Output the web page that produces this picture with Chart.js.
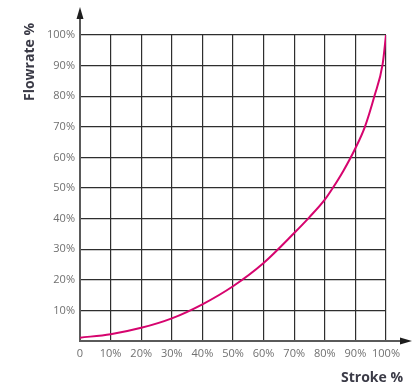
<!DOCTYPE html>
<html lang="en">
<head>
  <meta charset="UTF-8">
  <title>Flowrate vs Stroke</title>
  <script src="https://cdn.jsdelivr.net/npm/chart.js"></script>
  <style>
    html, body { margin: 0; padding: 0; background: #fff; }
    #wrap { width: 414px; height: 385px; position: relative; }
  </style>
</head>
<body>
  <div id="wrap"><canvas id="flowChart"></canvas></div>

  <script>
    // values
    var strokePct = [0, 10, 20, 30, 40, 50, 60, 70, 75, 80, 82.6, 86, 90, 93.1, 96.2, 98.9, 100];
    var flowPct   = [1.1, 2.2, 4.3, 7.4, 12.0, 17.9, 25.5, 35.3, 40.5, 46.2, 50, 55.5, 63, 70, 80, 90.5, 100];
    var tickValues = [0, 10, 20, 30, 40, 50, 60, 70, 80, 90, 100];

    var points = strokePct.map(function (s, i) { return { x: s, y: flowPct[i] }; });

    var gridColor = '#2e2e2e';
    var axisColor = '#5a5a5a';
    var titleColor = '#3b3b47';

    // axis arrows + titles
    var decorations = {
      id: 'decorations',
      afterDraw: function (chart) {
        var c = chart.ctx;
        var a = chart.chartArea;
        c.save();
        c.strokeStyle = axisColor;
        c.fillStyle = '#1e1e1e';
        c.lineWidth = 2;
        // y axis extension
        c.beginPath();
        c.moveTo(a.left, a.top);
        c.lineTo(a.left, 14);
        c.stroke();
        c.beginPath();
        c.moveTo(a.left, 7);
        c.lineTo(a.left - 3.5, 19);
        c.lineTo(a.left + 3.5, 19);
        c.closePath();
        c.fill();
        // x axis extension
        c.beginPath();
        c.moveTo(a.right, a.bottom);
        c.lineTo(404, a.bottom);
        c.stroke();
        c.beginPath();
        c.moveTo(412, a.bottom);
        c.lineTo(400, a.bottom - 3.5);
        c.lineTo(400, a.bottom + 3.5);
        c.closePath();
        c.fill();

        c.fillStyle = titleColor;
        c.font = 'bold 14px "Open Sans", sans-serif';
        c.textBaseline = 'middle';
        c.textAlign = 'right';
        c.fillText('Stroke %', 403, 378);
        c.translate(30, 62);
        c.rotate(-Math.PI / 2);
        c.textAlign = 'center';
        c.fillText('Flowrate %', 0, 0);
        c.restore();
      }
    };

    var ctx = document.getElementById('flowChart').getContext('2d');
    var flowChart = new Chart(ctx, {
      type: 'line',
      data: {
        datasets: [{
          label: 'Flowrate',
          data: points,
          borderColor: '#d6046e',
          borderWidth: 2,
          pointRadius: 0,
          fill: false,
          cubicInterpolationMode: 'monotone'
        }]
      },
      options: {
        responsive: true,
        maintainAspectRatio: false,
        animation: false,
        layout: { padding: { top: 35, right: 28, left: 0, bottom: 0 } },
        plugins: { legend: { display: false }, tooltip: { enabled: false } },
        scales: {
          x: {
            type: 'linear',
            min: 0,
            max: 100,
            afterBuildTicks: function (scale) {
              scale.ticks = tickValues.map(function (v) { return { value: v }; });
            },
            afterFit: function (scale) { scale.height = 44; },
            grid: { color: gridColor, lineWidth: 1.2, drawTicks: false },
            border: { color: axisColor, width: 2 },
            ticks: {
              padding: 6,
              maxRotation: 0,
              autoSkip: false,
              color: '#707070',
              font: { family: '"Open Sans", sans-serif', size: 11 },
              callback: function (v) { return v === 0 ? '0' : v + '%'; }
            }
          },
          y: {
            type: 'linear',
            min: 0,
            max: 100,
            afterBuildTicks: function (scale) {
              scale.ticks = tickValues.map(function (v) { return { value: v }; });
            },
            afterFit: function (scale) { scale.width = 80; },
            grid: { color: gridColor, lineWidth: 1.2, drawTicks: false },
            border: { color: axisColor, width: 2 },
            ticks: {
              padding: 5,
              autoSkip: false,
              color: '#707070',
              font: { family: '"Open Sans", sans-serif', size: 11 },
              callback: function (v) { return v === 0 ? '' : v + '%'; }
            }
          }
        }
      },
      plugins: [decorations]
    });
  </script>
</body>
</html>
